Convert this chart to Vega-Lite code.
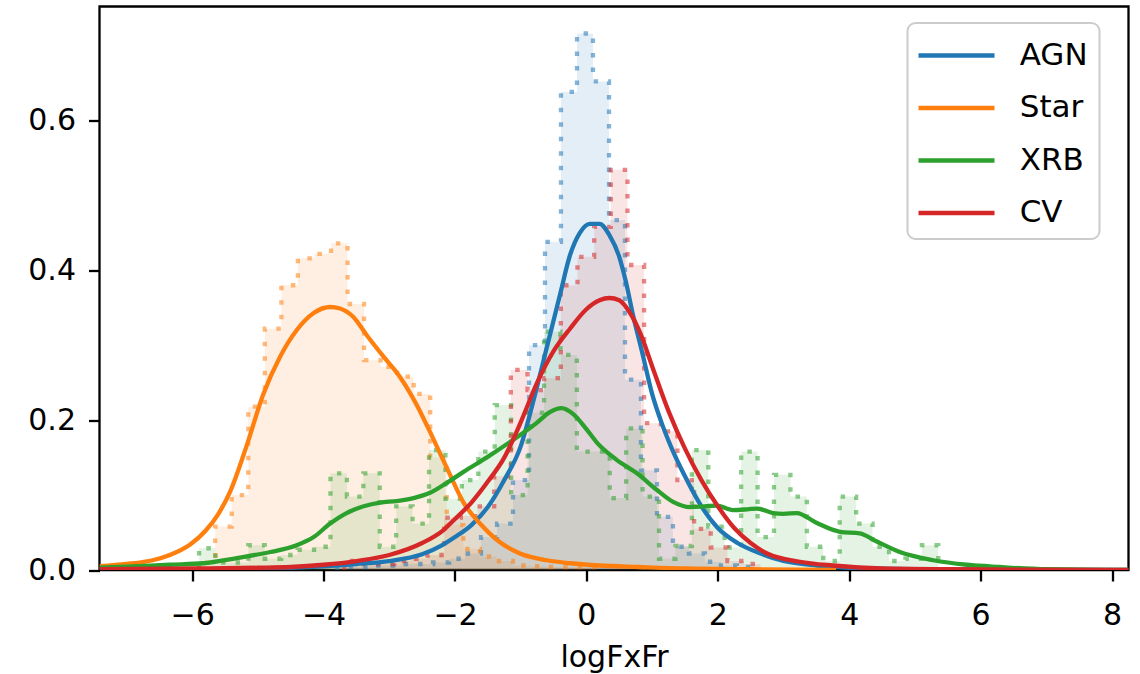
{
  "$schema": "https://vega.github.io/schema/vega-lite/v6.json",
  "width": 1029,
  "height": 563.5,
  "autosize": {"type": "none"},
  "padding": {"left": 99.5, "top": 6.5, "right": 11.5, "bottom": 104},
  "background": "white",
  "config": {
    "view": {"stroke": "black", "strokeWidth": 2.3},
    "font": "DejaVu Sans",
    "axis": {
      "domain": false, "grid": false, "tickSize": 11, "tickWidth": 2.3, "tickColor": "black",
      "labelFont": "DejaVu Sans", "labelFontSize": 30, "labelColor": "black", "labelOverlap": false,
      "titleFont": "DejaVu Sans", "titleFontSize": 30, "titleFontWeight": "normal", "titleColor": "black"
    },
    "legend": {"strokeWidth": 2}
  },
  "datasets": {
    "hist": [
      {"series": "AGN", "i": 0, "x": -3.794, "y": 0},
      {"series": "AGN", "i": 1, "x": -3.794, "y": 0.004},
      {"series": "AGN", "i": 2, "x": -3.551, "y": 0.004},
      {"series": "AGN", "i": 3, "x": -3.307, "y": 0.006},
      {"series": "AGN", "i": 4, "x": -3.064, "y": 0.006},
      {"series": "AGN", "i": 5, "x": -2.820, "y": 0.008},
      {"series": "AGN", "i": 6, "x": -2.577, "y": 0.008},
      {"series": "AGN", "i": 7, "x": -2.334, "y": 0.010},
      {"series": "AGN", "i": 8, "x": -2.090, "y": 0.015},
      {"series": "AGN", "i": 9, "x": -1.847, "y": 0.022},
      {"series": "AGN", "i": 10, "x": -1.604, "y": 0.044},
      {"series": "AGN", "i": 11, "x": -1.360, "y": 0.062},
      {"series": "AGN", "i": 12, "x": -1.117, "y": 0.120},
      {"series": "AGN", "i": 13, "x": -0.873, "y": 0.300},
      {"series": "AGN", "i": 14, "x": -0.630, "y": 0.438},
      {"series": "AGN", "i": 15, "x": -0.387, "y": 0.638},
      {"series": "AGN", "i": 16, "x": -0.143, "y": 0.716},
      {"series": "AGN", "i": 17, "x": 0.100, "y": 0.652},
      {"series": "AGN", "i": 18, "x": 0.344, "y": 0.467},
      {"series": "AGN", "i": 19, "x": 0.587, "y": 0.254},
      {"series": "AGN", "i": 20, "x": 0.830, "y": 0.133},
      {"series": "AGN", "i": 21, "x": 1.074, "y": 0.071},
      {"series": "AGN", "i": 22, "x": 1.317, "y": 0.031},
      {"series": "AGN", "i": 23, "x": 1.560, "y": 0.022},
      {"series": "AGN", "i": 24, "x": 1.804, "y": 0.011},
      {"series": "AGN", "i": 25, "x": 2.047, "y": 0.006},
      {"series": "AGN", "i": 26, "x": 2.291, "y": 0.004},
      {"series": "AGN", "i": 27, "x": 2.534, "y": 0},
      {"series": "Star", "i": 0, "x": -5.902, "y": 0},
      {"series": "Star", "i": 1, "x": -5.902, "y": 0.010},
      {"series": "Star", "i": 2, "x": -5.650, "y": 0.058},
      {"series": "Star", "i": 3, "x": -5.398, "y": 0.100},
      {"series": "Star", "i": 4, "x": -5.146, "y": 0.218},
      {"series": "Star", "i": 5, "x": -4.894, "y": 0.322},
      {"series": "Star", "i": 6, "x": -4.642, "y": 0.380},
      {"series": "Star", "i": 7, "x": -4.391, "y": 0.416},
      {"series": "Star", "i": 8, "x": -4.139, "y": 0.422},
      {"series": "Star", "i": 9, "x": -3.887, "y": 0.436},
      {"series": "Star", "i": 10, "x": -3.635, "y": 0.355},
      {"series": "Star", "i": 11, "x": -3.384, "y": 0.280},
      {"series": "Star", "i": 12, "x": -3.132, "y": 0.271},
      {"series": "Star", "i": 13, "x": -2.880, "y": 0.258},
      {"series": "Star", "i": 14, "x": -2.629, "y": 0.235},
      {"series": "Star", "i": 15, "x": -2.377, "y": 0.150},
      {"series": "Star", "i": 16, "x": -2.125, "y": 0.060},
      {"series": "Star", "i": 17, "x": -1.873, "y": 0.028},
      {"series": "Star", "i": 18, "x": -1.621, "y": 0.018},
      {"series": "Star", "i": 19, "x": -1.369, "y": 0.012},
      {"series": "Star", "i": 20, "x": -1.118, "y": 0.006},
      {"series": "Star", "i": 21, "x": -0.866, "y": 0.005},
      {"series": "Star", "i": 22, "x": -0.614, "y": 0.004},
      {"series": "Star", "i": 23, "x": -0.362, "y": 0.004},
      {"series": "Star", "i": 24, "x": -0.110, "y": 0.004},
      {"series": "Star", "i": 25, "x": 0.141, "y": 0},
      {"series": "XRB", "i": 0, "x": -5.895, "y": 0},
      {"series": "XRB", "i": 1, "x": -5.895, "y": 0.029},
      {"series": "XRB", "i": 2, "x": -5.645, "y": 0.010},
      {"series": "XRB", "i": 3, "x": -5.395, "y": 0.010},
      {"series": "XRB", "i": 4, "x": -5.145, "y": 0.033},
      {"series": "XRB", "i": 5, "x": -4.895, "y": 0.015},
      {"series": "XRB", "i": 6, "x": -4.645, "y": 0.020},
      {"series": "XRB", "i": 7, "x": -4.395, "y": 0.027},
      {"series": "XRB", "i": 8, "x": -4.145, "y": 0.031},
      {"series": "XRB", "i": 9, "x": -3.895, "y": 0.129},
      {"series": "XRB", "i": 10, "x": -3.645, "y": 0.098},
      {"series": "XRB", "i": 11, "x": -3.395, "y": 0.129},
      {"series": "XRB", "i": 12, "x": -3.145, "y": 0.031},
      {"series": "XRB", "i": 13, "x": -2.895, "y": 0.085},
      {"series": "XRB", "i": 14, "x": -2.645, "y": 0.062},
      {"series": "XRB", "i": 15, "x": -2.395, "y": 0.160},
      {"series": "XRB", "i": 16, "x": -2.145, "y": 0.095},
      {"series": "XRB", "i": 17, "x": -1.895, "y": 0.120},
      {"series": "XRB", "i": 18, "x": -1.645, "y": 0.158},
      {"series": "XRB", "i": 19, "x": -1.395, "y": 0.220},
      {"series": "XRB", "i": 20, "x": -1.145, "y": 0.100},
      {"series": "XRB", "i": 21, "x": -0.895, "y": 0.210},
      {"series": "XRB", "i": 22, "x": -0.645, "y": 0.318},
      {"series": "XRB", "i": 23, "x": -0.395, "y": 0.287},
      {"series": "XRB", "i": 24, "x": -0.145, "y": 0.158},
      {"series": "XRB", "i": 25, "x": 0.105, "y": 0.158},
      {"series": "XRB", "i": 26, "x": 0.355, "y": 0.096},
      {"series": "XRB", "i": 27, "x": 0.605, "y": 0.189},
      {"series": "XRB", "i": 28, "x": 0.855, "y": 0.098},
      {"series": "XRB", "i": 29, "x": 1.105, "y": 0.015},
      {"series": "XRB", "i": 30, "x": 1.355, "y": 0.032},
      {"series": "XRB", "i": 31, "x": 1.605, "y": 0.160},
      {"series": "XRB", "i": 32, "x": 1.855, "y": 0.058},
      {"series": "XRB", "i": 33, "x": 2.105, "y": 0.030},
      {"series": "XRB", "i": 34, "x": 2.355, "y": 0.158},
      {"series": "XRB", "i": 35, "x": 2.605, "y": 0.044},
      {"series": "XRB", "i": 36, "x": 2.855, "y": 0.127},
      {"series": "XRB", "i": 37, "x": 3.105, "y": 0.098},
      {"series": "XRB", "i": 38, "x": 3.355, "y": 0.031},
      {"series": "XRB", "i": 39, "x": 3.605, "y": 0.012},
      {"series": "XRB", "i": 40, "x": 3.855, "y": 0.098},
      {"series": "XRB", "i": 41, "x": 4.105, "y": 0.062},
      {"series": "XRB", "i": 42, "x": 4.355, "y": 0.031},
      {"series": "XRB", "i": 43, "x": 4.605, "y": 0.012},
      {"series": "XRB", "i": 44, "x": 4.855, "y": 0.015},
      {"series": "XRB", "i": 45, "x": 5.105, "y": 0.033},
      {"series": "XRB", "i": 46, "x": 5.355, "y": 0},
      {"series": "CV", "i": 0, "x": -3.685, "y": 0},
      {"series": "CV", "i": 1, "x": -3.685, "y": 0.012},
      {"series": "CV", "i": 2, "x": -3.432, "y": 0.008},
      {"series": "CV", "i": 3, "x": -3.178, "y": 0.008},
      {"series": "CV", "i": 4, "x": -2.925, "y": 0.012},
      {"series": "CV", "i": 5, "x": -2.671, "y": 0.015},
      {"series": "CV", "i": 6, "x": -2.418, "y": 0.020},
      {"series": "CV", "i": 7, "x": -2.164, "y": 0.070},
      {"series": "CV", "i": 8, "x": -1.910, "y": 0.072},
      {"series": "CV", "i": 9, "x": -1.657, "y": 0.085},
      {"series": "CV", "i": 10, "x": -1.403, "y": 0.125},
      {"series": "CV", "i": 11, "x": -1.150, "y": 0.267},
      {"series": "CV", "i": 12, "x": -0.896, "y": 0.240},
      {"series": "CV", "i": 13, "x": -0.643, "y": 0.256},
      {"series": "CV", "i": 14, "x": -0.389, "y": 0.380},
      {"series": "CV", "i": 15, "x": -0.136, "y": 0.418},
      {"series": "CV", "i": 16, "x": 0.118, "y": 0.458},
      {"series": "CV", "i": 17, "x": 0.371, "y": 0.534},
      {"series": "CV", "i": 18, "x": 0.625, "y": 0.407},
      {"series": "CV", "i": 19, "x": 0.878, "y": 0.196},
      {"series": "CV", "i": 20, "x": 1.132, "y": 0.185},
      {"series": "CV", "i": 21, "x": 1.385, "y": 0.120},
      {"series": "CV", "i": 22, "x": 1.639, "y": 0.055},
      {"series": "CV", "i": 23, "x": 1.892, "y": 0.030},
      {"series": "CV", "i": 24, "x": 2.146, "y": 0.012},
      {"series": "CV", "i": 25, "x": 2.399, "y": 0.008},
      {"series": "CV", "i": 26, "x": 2.652, "y": 0}
    ],
    "kde": [
      {"series": "AGN", "x": -7.41, "y": 0.0},
      {"series": "AGN", "x": -6.0, "y": 0.001},
      {"series": "AGN", "x": -5.0, "y": 0.002},
      {"series": "AGN", "x": -4.5, "y": 0.003},
      {"series": "AGN", "x": -4.0, "y": 0.005},
      {"series": "AGN", "x": -3.5, "y": 0.008},
      {"series": "AGN", "x": -3.0, "y": 0.012},
      {"series": "AGN", "x": -2.5, "y": 0.021},
      {"series": "AGN", "x": -2.2, "y": 0.033},
      {"series": "AGN", "x": -2.0, "y": 0.044},
      {"series": "AGN", "x": -1.75, "y": 0.060},
      {"series": "AGN", "x": -1.5, "y": 0.084},
      {"series": "AGN", "x": -1.25, "y": 0.120},
      {"series": "AGN", "x": -1.0, "y": 0.165},
      {"series": "AGN", "x": -0.8, "y": 0.228},
      {"series": "AGN", "x": -0.6, "y": 0.298},
      {"series": "AGN", "x": -0.4, "y": 0.368},
      {"series": "AGN", "x": -0.25, "y": 0.420},
      {"series": "AGN", "x": -0.1, "y": 0.450},
      {"series": "AGN", "x": 0.05, "y": 0.462},
      {"series": "AGN", "x": 0.2, "y": 0.462},
      {"series": "AGN", "x": 0.35, "y": 0.447},
      {"series": "AGN", "x": 0.5, "y": 0.418},
      {"series": "AGN", "x": 0.6, "y": 0.385},
      {"series": "AGN", "x": 0.71, "y": 0.340},
      {"series": "AGN", "x": 0.85, "y": 0.290},
      {"series": "AGN", "x": 1.0, "y": 0.235},
      {"series": "AGN", "x": 1.15, "y": 0.195},
      {"series": "AGN", "x": 1.3, "y": 0.162},
      {"series": "AGN", "x": 1.5, "y": 0.125},
      {"series": "AGN", "x": 1.75, "y": 0.085},
      {"series": "AGN", "x": 2.0, "y": 0.056},
      {"series": "AGN", "x": 2.3, "y": 0.036},
      {"series": "AGN", "x": 2.65, "y": 0.022},
      {"series": "AGN", "x": 3.0, "y": 0.012},
      {"series": "AGN", "x": 3.5, "y": 0.006},
      {"series": "AGN", "x": 4.0, "y": 0.003},
      {"series": "AGN", "x": 5.0, "y": 0.001},
      {"series": "AGN", "x": 8.25, "y": 0.0},
      {"series": "Star", "x": -7.41, "y": 0.005},
      {"series": "Star", "x": -7.0, "y": 0.008},
      {"series": "Star", "x": -6.6, "y": 0.013},
      {"series": "Star", "x": -6.34, "y": 0.020},
      {"series": "Star", "x": -6.03, "y": 0.034},
      {"series": "Star", "x": -5.8, "y": 0.052},
      {"series": "Star", "x": -5.6, "y": 0.075},
      {"series": "Star", "x": -5.42, "y": 0.105},
      {"series": "Star", "x": -5.17, "y": 0.166},
      {"series": "Star", "x": -4.92, "y": 0.234},
      {"series": "Star", "x": -4.66, "y": 0.285},
      {"series": "Star", "x": -4.41, "y": 0.320},
      {"series": "Star", "x": -4.15, "y": 0.343},
      {"series": "Star", "x": -3.9, "y": 0.351},
      {"series": "Star", "x": -3.75, "y": 0.349},
      {"series": "Star", "x": -3.55, "y": 0.338},
      {"series": "Star", "x": -3.34, "y": 0.313},
      {"series": "Star", "x": -3.09, "y": 0.285},
      {"series": "Star", "x": -2.84, "y": 0.258},
      {"series": "Star", "x": -2.58, "y": 0.220},
      {"series": "Star", "x": -2.33, "y": 0.175},
      {"series": "Star", "x": -2.08, "y": 0.128},
      {"series": "Star", "x": -1.87, "y": 0.090},
      {"series": "Star", "x": -1.62, "y": 0.062},
      {"series": "Star", "x": -1.36, "y": 0.040},
      {"series": "Star", "x": -1.01, "y": 0.022},
      {"series": "Star", "x": -0.6, "y": 0.013},
      {"series": "Star", "x": -0.25, "y": 0.009},
      {"series": "Star", "x": 0.2, "y": 0.006},
      {"series": "Star", "x": 0.8, "y": 0.004},
      {"series": "Star", "x": 1.5, "y": 0.002},
      {"series": "Star", "x": 2.5, "y": 0.001},
      {"series": "Star", "x": 3.8, "y": 0.0},
      {"series": "XRB", "x": -7.41, "y": 0.003},
      {"series": "XRB", "x": -6.8, "y": 0.005},
      {"series": "XRB", "x": -6.34, "y": 0.007},
      {"series": "XRB", "x": -5.83, "y": 0.009},
      {"series": "XRB", "x": -5.32, "y": 0.016},
      {"series": "XRB", "x": -4.81, "y": 0.024},
      {"series": "XRB", "x": -4.41, "y": 0.033},
      {"series": "XRB", "x": -4.15, "y": 0.044},
      {"series": "XRB", "x": -3.9, "y": 0.062},
      {"series": "XRB", "x": -3.65, "y": 0.076},
      {"series": "XRB", "x": -3.39, "y": 0.085},
      {"series": "XRB", "x": -3.14, "y": 0.090},
      {"series": "XRB", "x": -2.89, "y": 0.092},
      {"series": "XRB", "x": -2.63, "y": 0.096},
      {"series": "XRB", "x": -2.38, "y": 0.103},
      {"series": "XRB", "x": -2.13, "y": 0.116},
      {"series": "XRB", "x": -1.87, "y": 0.131},
      {"series": "XRB", "x": -1.52, "y": 0.150},
      {"series": "XRB", "x": -1.11, "y": 0.174},
      {"series": "XRB", "x": -0.76, "y": 0.196},
      {"series": "XRB", "x": -0.55, "y": 0.211},
      {"series": "XRB", "x": -0.38, "y": 0.216},
      {"series": "XRB", "x": -0.2, "y": 0.208},
      {"series": "XRB", "x": 0.0, "y": 0.188},
      {"series": "XRB", "x": 0.16, "y": 0.170},
      {"series": "XRB", "x": 0.46, "y": 0.147},
      {"series": "XRB", "x": 0.77, "y": 0.129},
      {"series": "XRB", "x": 1.07, "y": 0.107},
      {"series": "XRB", "x": 1.32, "y": 0.091},
      {"series": "XRB", "x": 1.58, "y": 0.084},
      {"series": "XRB", "x": 1.8, "y": 0.085},
      {"series": "XRB", "x": 1.98, "y": 0.086},
      {"series": "XRB", "x": 2.23, "y": 0.080},
      {"series": "XRB", "x": 2.45, "y": 0.081},
      {"series": "XRB", "x": 2.6, "y": 0.082},
      {"series": "XRB", "x": 2.84, "y": 0.076},
      {"series": "XRB", "x": 3.0, "y": 0.075},
      {"series": "XRB", "x": 3.2, "y": 0.076},
      {"series": "XRB", "x": 3.5, "y": 0.063},
      {"series": "XRB", "x": 3.86, "y": 0.051},
      {"series": "XRB", "x": 4.16, "y": 0.049},
      {"series": "XRB", "x": 4.42, "y": 0.038},
      {"series": "XRB", "x": 4.77, "y": 0.024},
      {"series": "XRB", "x": 5.28, "y": 0.013},
      {"series": "XRB", "x": 5.79, "y": 0.007},
      {"series": "XRB", "x": 6.29, "y": 0.004},
      {"series": "XRB", "x": 7.0, "y": 0.001},
      {"series": "XRB", "x": 8.25, "y": 0.0},
      {"series": "CV", "x": -7.41, "y": 0.001},
      {"series": "CV", "x": -6.0, "y": 0.002},
      {"series": "CV", "x": -5.0, "y": 0.003},
      {"series": "CV", "x": -4.5, "y": 0.004},
      {"series": "CV", "x": -4.0, "y": 0.007},
      {"series": "CV", "x": -3.5, "y": 0.012},
      {"series": "CV", "x": -3.0, "y": 0.020},
      {"series": "CV", "x": -2.5, "y": 0.036},
      {"series": "CV", "x": -2.18, "y": 0.053},
      {"series": "CV", "x": -2.0, "y": 0.068},
      {"series": "CV", "x": -1.75, "y": 0.090},
      {"series": "CV", "x": -1.5, "y": 0.118},
      {"series": "CV", "x": -1.25, "y": 0.150},
      {"series": "CV", "x": -1.0, "y": 0.197},
      {"series": "CV", "x": -0.75, "y": 0.250},
      {"series": "CV", "x": -0.5, "y": 0.292},
      {"series": "CV", "x": -0.25, "y": 0.322},
      {"series": "CV", "x": 0.0, "y": 0.348},
      {"series": "CV", "x": 0.2, "y": 0.360},
      {"series": "CV", "x": 0.35, "y": 0.363},
      {"series": "CV", "x": 0.5, "y": 0.360},
      {"series": "CV", "x": 0.65, "y": 0.345},
      {"series": "CV", "x": 0.82, "y": 0.316},
      {"series": "CV", "x": 1.0, "y": 0.272},
      {"series": "CV", "x": 1.25, "y": 0.212},
      {"series": "CV", "x": 1.5, "y": 0.162},
      {"series": "CV", "x": 1.75, "y": 0.120},
      {"series": "CV", "x": 2.0, "y": 0.085},
      {"series": "CV", "x": 2.25, "y": 0.056},
      {"series": "CV", "x": 2.5, "y": 0.036},
      {"series": "CV", "x": 2.75, "y": 0.022},
      {"series": "CV", "x": 3.25, "y": 0.011},
      {"series": "CV", "x": 3.75, "y": 0.006},
      {"series": "CV", "x": 4.5, "y": 0.002},
      {"series": "CV", "x": 5.5, "y": 0.001},
      {"series": "CV", "x": 8.25, "y": 0.0}
    ]
  },
  "encoding": {
    "x": {
      "field": "x", "type": "quantitative",
      "scale": {"domain": [-7.41, 8.25], "nice": false, "zero": false},
      "axis": {"values": [-6, -4, -2, 0, 2, 4, 6, 8], "format": "d", "labelPadding": 19, "title": "logFxFr", "titleBaseline": "alphabetic", "titleY": 96}
    },
    "y": {
      "field": "y", "type": "quantitative",
      "scale": {"domain": [0, 0.752], "nice": false},
      "axis": {"values": [0, 0.2, 0.4, 0.6], "format": ".1f", "labelPadding": 13, "title": null}
    }
  },
  "layer": [
    {
      "data": {"name": "hist"},
      "transform": [{"filter": "datum.i > 0"}],
      "mark": {"type": "area", "interpolate": "step-after", "fillOpacity": 0.12, "clip": true},
      "encoding": {
        "y": {"field": "y", "type": "quantitative", "stack": null},
        "fill": {"field": "series", "type": "nominal", "scale": {"domain": ["CV", "XRB", "Star", "AGN"], "range": ["#d62728", "#2ca02c", "#ff7f0e", "#1f77b4"]}, "legend": null}
      }
    },
    {
      "data": {"name": "hist"},
      "mark": {"type": "line", "interpolate": "step-after", "strokeDash": [4.5, 10], "strokeWidth": 4.3, "strokeOpacity": 0.55, "clip": true},
      "encoding": {
        "stroke": {"field": "series", "type": "nominal", "scale": {"domain": ["CV", "XRB", "Star", "AGN"], "range": ["#d62728", "#2ca02c", "#ff7f0e", "#1f77b4"]}, "legend": null},
        "order": {"field": "i", "type": "quantitative"}
      }
    },
    {
      "data": {"name": "kde"},
      "mark": {"type": "line", "strokeWidth": 4.3, "interpolate": "monotone", "clip": true},
      "encoding": {
        "color": {
          "field": "series", "type": "nominal",
          "scale": {"domain": ["AGN", "Star", "XRB", "CV"], "range": ["#1f77b4", "#ff7f0e", "#2ca02c", "#d62728"]},
          "legend": {
            "orient": "none", "legendX": 808, "legendY": 16.5, "title": null,
            "symbolType": "M-2,0L2,0", "symbolSize": 1444, "symbolStrokeWidth": 4.3, "symbolOffset": 16.5,
            "labelFont": "DejaVu Sans", "labelFontSize": 31, "labelColor": "black", "labelOffset": 41.7,
            "rowPadding": 15.5, "padding": 11, "strokeColor": "#cccccc", "fillColor": "rgba(255,255,255,0.8)", "cornerRadius": 8
          }
        }
      }
    }
  ]
}
